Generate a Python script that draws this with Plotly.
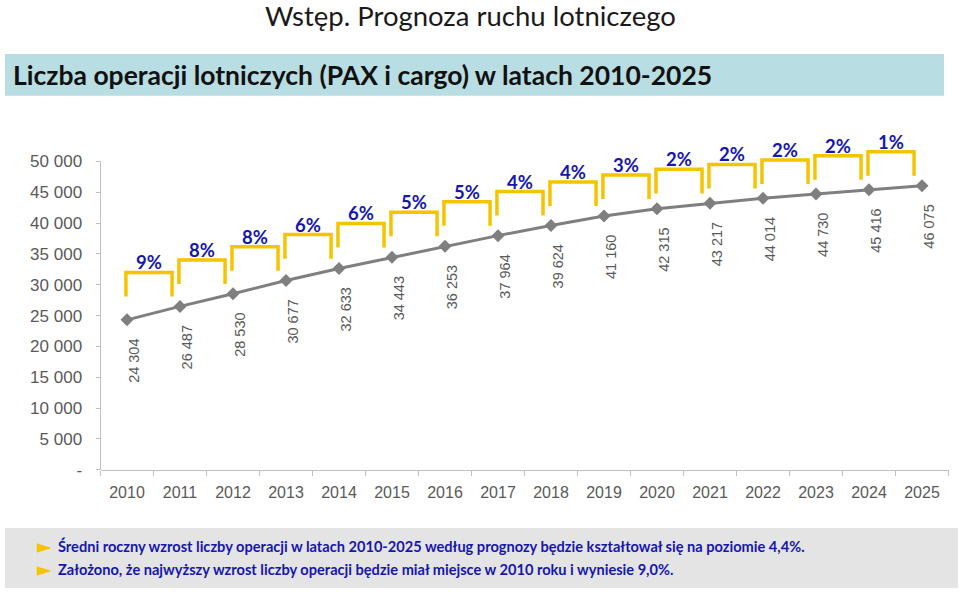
import plotly.graph_objects as go

# ---------------- data ----------------
years = [str(y) for y in range(2010, 2026)]
operations = [24304, 26487, 28530, 30677, 32633, 34443, 36253, 37964,
              39624, 41160, 42315, 43217, 44014, 44730, 45416, 46075]
growth_labels = ["9%", "8%", "8%", "6%", "6%", "5%", "5%", "4%",
                 "4%", "3%", "2%", "2%", "2%", "2%", "1%"]
y_tick_values = [0, 5000, 10000, 15000, 20000, 25000, 30000, 35000, 40000, 45000, 50000]
y_tick_labels = ["-", "5 000", "10 000", "15 000", "20 000", "25 000",
                 "30 000", "35 000", "40 000", "45 000", "50 000"]
value_labels = [f"{v:,}".replace(",", " ") for v in operations]

page_title = "Wstęp. Prognoza ruchu lotniczego"
chart_title = "Liczba operacji lotniczych (PAX i cargo) w latach 2010-2025"
notes = [
    "Średni roczny wzrost liczby operacji w latach 2010-2025 według prognozy będzie kształtował się na poziomie 4,4%.",
    "Założono, że najwyższy wzrost liczby operacji będzie miał miejsce w 2010 roku i wyniesie 9,0%.",
]

# ---------------- style ----------------
W, H = 960, 592          # reference canvas used for positioning (fractions)
FIG_H = 601              # drawn height
X_LEFT, X_RIGHT = 100.5, 948.5
Y_TOP, Y_BOTTOM = 129.6, 470.5
Y_MAX = 55200

GRAY = "#7f7f7f"
AXIS = "#bfbfbf"
TICKTXT = "#595959"
BLUE = "#1616ad"
YELLOW = "#f5c400"
TEAL = "#b8dde2"
NOTE_BG = "#e4e4e4"


def fx(px):
    return px / W


def fy(py):
    return 1 - py / H


fig = go.Figure()
fig.add_trace(go.Scatter(
    x=years, y=operations, mode="lines+markers",
    line=dict(color=GRAY, width=3),
    marker=dict(symbol="diamond", size=10, color=GRAY),
    hoverinfo="x+y", showlegend=False,
))

shapes = []
annotations = []

# brackets with growth labels
for i, lab in enumerate(growth_labels):
    x0 = i - 0.02
    x1 = i + 0.85
    top = operations[i + 1] + 5500
    bot = operations[i + 1] + 1600
    shapes.append(dict(
        type="path", xref="x", yref="y",
        path=f"M {x0},{bot} L {x0},{top} L {x1},{top} L {x1},{bot}",
        line=dict(color=YELLOW, width=3.5),
    ))
    annotations.append(dict(
        x=(x0 + x1) / 2, y=top, xref="x", yref="y", text=f"<b>{lab}</b>",
        showarrow=False, yanchor="bottom", xanchor="center", yshift=-3,
        font=dict(family="Lato, Noto Sans, sans-serif", size=18.5, color=BLUE),
    ))

# rotated value labels
for i, lab in enumerate(value_labels):
    annotations.append(dict(
        x=i, y=operations[i], xref="x", yref="y", text=lab,
        showarrow=False, textangle=-90, yanchor="top", xanchor="center",
        yshift=-17, xshift=7,
        font=dict(family="Liberation Sans, Arial, sans-serif", size=14.5, color=TICKTXT),
    ))

# y axis line (only up to 50 000)
shapes.append(dict(
    type="line", xref="paper", yref="paper",
    x0=fx(X_LEFT), x1=fx(X_LEFT),
    y0=fy(Y_BOTTOM), y1=fy(Y_BOTTOM - (Y_BOTTOM - Y_TOP) * 50000 / Y_MAX),
    line=dict(color=AXIS, width=1),
))

# header band
shapes.append(dict(
    type="rect", xref="paper", yref="paper",
    x0=fx(5), x1=fx(944), y0=fy(96), y1=fy(54),
    fillcolor=TEAL, line=dict(width=0), layer="below",
))
# notes band
shapes.append(dict(
    type="rect", xref="paper", yref="paper",
    x0=fx(5), x1=fx(958), y0=fy(589), y1=fy(529),
    fillcolor=NOTE_BG, line=dict(width=0), layer="below",
))

annotations.append(dict(
    x=fx(470), y=fy(15.5), xref="paper", yref="paper", text=page_title,
    showarrow=False, xanchor="center", yanchor="middle",
    font=dict(family="Lato, Noto Sans, sans-serif", size=27.5, color="#1a1a1a"),
))
annotations.append(dict(
    x=fx(11), y=fy(75), xref="paper", yref="paper", text=f"<b>{chart_title}</b>",
    showarrow=False, xanchor="left", yanchor="middle",
    font=dict(family="Lato, Noto Sans, sans-serif", size=26.5, color="#111111"),
))

for k, note in enumerate(notes):
    yy = 546.5 + k * 23.5
    annotations.append(dict(
        x=fx(35), y=fy(yy), xref="paper", yref="paper", text="►",
        showarrow=False, xanchor="left", yanchor="middle",
        font=dict(family="DejaVu Sans, sans-serif", size=19, color=YELLOW),
    ))
    annotations.append(dict(
        x=fx(56), y=fy(yy), xref="paper", yref="paper", text=f"<b>{note}</b>",
        showarrow=False, xanchor="left", yanchor="middle",
        font=dict(family="Lato, Noto Sans, sans-serif", size=14.6, color=BLUE),
    ))

fig.update_layout(
    width=W, height=FIG_H, autosize=False,
    margin=dict(l=0, r=0, t=0, b=0, pad=0),
    paper_bgcolor="white", plot_bgcolor="white",
    shapes=shapes, annotations=annotations,
    xaxis=dict(
        domain=[fx(X_LEFT), fx(X_RIGHT)], type="category",
        range=[-0.5, len(years) - 0.5],
        showgrid=False, zeroline=False,
        showline=True, linecolor=AXIS, linewidth=1,
        ticks="outside", tickson="boundaries", ticklen=5, tickcolor=AXIS,
        ticklabelstandoff=8,
        tickfont=dict(family="Liberation Sans, Arial, sans-serif", size=16, color=TICKTXT),
    ),
    yaxis=dict(
        domain=[fy(Y_BOTTOM), fy(Y_TOP)],
        range=[0, Y_MAX],
        tickvals=y_tick_values, ticktext=y_tick_labels,
        showgrid=False, zeroline=False, showline=False,
        ticks="outside", ticklen=4, tickcolor=AXIS,
        ticklabelstandoff=10,
        tickfont=dict(family="Liberation Sans, Arial, sans-serif", size=17, color=TICKTXT),
    ),
)

fig.write_html(
    "out.html",
    config={"responsive": False, "displayModeBar": False},
    post_script=(
        "document.documentElement.style.overflow='hidden';"
        "document.body.style.margin='0';document.body.style.padding='0';"
        "var gd=document.getElementById('{plot_id}');"
        "gd.style.position='fixed';gd.style.left='0px';gd.style.top='0px';"
    ),
)
